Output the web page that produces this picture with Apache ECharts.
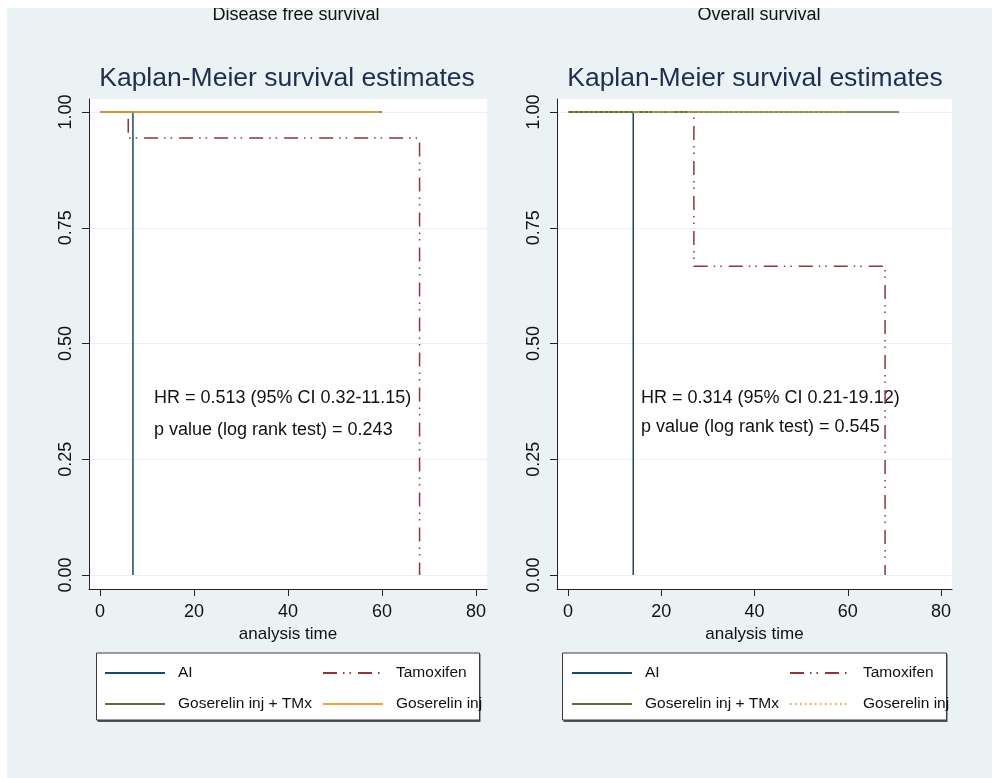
<!DOCTYPE html>
<html><head><meta charset="utf-8">
<script src="https://cdn.jsdelivr.net/npm/echarts@6/dist/echarts.min.js"></script>
<style>html,body{margin:0;padding:0;background:#fff}#c{width:992px;height:778px}</style>
</head><body><div id="c"></div>
<script>
// ---- data ----
const panelTitles = ['Disease free survival', 'Overall survival'];
const mainTitle = 'Kaplan-Meier survival estimates';
const seriesNames = ['AI', 'Tamoxifen', 'Goserelin inj + TMx', 'Goserelin inj'];
const xTicks = [0, 20, 40, 60, 80];
const yTicks = [0, 0.25, 0.5, 0.75, 1];
const xAxisName = 'analysis time';
// Disease free survival: step functions [time, survival]
const dfsAI = [[0, 1], [7, 0]];
const dfsTam = [[0, 1], [6, 0.944], [68, 0]];
const dfsGosTmx = [[0, 1], [60, 1]];
const dfsGos = [[0, 1], [59.5, 1]];
// Overall survival
const osAI = [[0, 1], [14, 0]];
const osTam = [[0, 1], [27, 0.667], [68, 0]];
const osGosTmx = [[0, 1], [71, 1]];
const osGos = [[0, 1], [60, 1]];
const dfsStats = ['HR = 0.513 (95% CI 0.32-11.15)', 'p value (log rank test) = 0.243'];
const osStats = ['HR = 0.314 (95% CI 0.21-19.12)', 'p value (log rank test) = 0.545'];

// ---- styling ----
const FONT = "'Liberation Sans', Arial, sans-serif";
const BG = '#EAF2F3';
const C_AI = '#1a476f', C_TAM = '#90353b', C_GRN = '#55752f', C_ORG = '#eea237';
const TAM_DASH = [14, 6, 1.5, 5, 1.5, 7];
const SUFFIX = ' (OS)';

const chart = echarts.init(document.getElementById('c'), null, {renderer: 'canvas'});

const grids = [
  {left: 89, top: 99, width: 398, height: 490},
  {left: 557, top: 99, width: 395, height: 490}
];

function xAxisCfg(gi) {
  return {
    type: 'value', gridIndex: gi, min: -2.35, max: 82.35,
    name: xAxisName, nameLocation: 'middle', nameGap: 35,
    nameTextStyle: {fontSize: 17, color: '#111', fontFamily: FONT},
    axisLine: {show: true, onZero: false, lineStyle: {color: '#222', width: 1}},
    axisTick: {show: true, length: 7, customValues: xTicks, lineStyle: {color: '#222', width: 1}},
    axisLabel: {customValues: xTicks, fontSize: 18, color: '#111', margin: 14, fontFamily: FONT},
    splitLine: {show: false}
  };
}
function yAxisCfg(gi) {
  return {
    type: 'value', gridIndex: gi, min: -0.0302, max: 1.0281,
    axisLine: {show: true, onZero: false, lineStyle: {color: '#222', width: 1}},
    axisTick: {show: true, length: 7, customValues: yTicks, lineStyle: {color: '#222', width: 1}},
    axisLabel: {customValues: yTicks, rotate: 90, formatter: v => v.toFixed(2),
      fontSize: 18, color: '#111', margin: 14, fontFamily: FONT},
    splitLine: {show: true, lineStyle: {color: BG, width: 1}}
  };
}
function mk(name, data, gi, color, type) {
  return {
    type: 'line', name: name, xAxisIndex: gi, yAxisIndex: gi, data: data,
    step: 'end', symbol: 'none', silent: true, animation: false,
    itemStyle: {color: color},
    lineStyle: {color: color, width: 1.5, type: type || 'solid'}
  };
}

const series = [
  mk(seriesNames[0], dfsAI, 0, C_AI),
  mk(seriesNames[1], dfsTam, 0, C_TAM, TAM_DASH),
  mk(seriesNames[2], dfsGosTmx, 0, C_GRN),
  mk(seriesNames[3], dfsGos, 0, C_ORG),
  mk(seriesNames[0] + SUFFIX, osAI, 1, C_AI),
  mk(seriesNames[1] + SUFFIX, osTam, 1, C_TAM, TAM_DASH),
  mk(seriesNames[2] + SUFFIX, osGosTmx, 1, C_GRN),
  mk(seriesNames[3] + SUFFIX, osGos, 1, C_ORG, [1.5, 3.5])
];

function legendCol(left, names) {
  return {
    left: left, top: 665, orient: 'vertical', padding: 0,
    itemWidth: 60, itemHeight: 16, itemGap: 15, selectedMode: false,
    data: names,
    itemStyle: {opacity: 0, borderWidth: 0},
    formatter: n => n.replace(SUFFIX, ''),
    textStyle: {fontSize: 15.5, color: '#111', fontFamily: FONT, padding: [0, 0, 0, 8]}
  };
}
const legends = [
  legendCol(104, [seriesNames[0], seriesNames[2]]),
  legendCol(322, [seriesNames[1], seriesNames[3]]),
  legendCol(571, [seriesNames[0] + SUFFIX, seriesNames[2] + SUFFIX]),
  legendCol(789, [seriesNames[1] + SUFFIX, seriesNames[3] + SUFFIX])
];

function txt(x, y, text, size, fill, align) {
  return {type: 'text', x: x, y: y, silent: true,
    style: {text: text, fontSize: size, fontFamily: FONT, fill: fill,
      align: align || 'center', verticalAlign: 'middle'}};
}
function legendBox(x, w) {
  return [
    {type: 'rect', shape: {x: x + 1, y: 654, width: w, height: 68}, style: {fill: '#555'}, z: 1, silent: true},
    {type: 'rect', shape: {x: x, y: 653, width: w, height: 67}, style: {fill: '#fff', stroke: '#3a3a3a', lineWidth: 1}, z: 2, silent: true}
  ];
}

const graphics = [].concat(
  legendBox(96.5, 383),
  legendBox(562.5, 384),
  [
    txt(296, 15, panelTitles[0], 18, '#111'),
    txt(759, 15, panelTitles[1], 18, '#111'),
    txt(287, 79, mainTitle, 26.5, '#1f2d4e'),
    txt(755, 79, mainTitle, 26.5, '#1f2d4e'),
    txt(154, 398, dfsStats[0], 18, '#111', 'left'),
    txt(154, 430, dfsStats[1], 18, '#111', 'left'),
    txt(641, 398, osStats[0], 18, '#111', 'left'),
    txt(641, 427, osStats[1], 18, '#111', 'left'),
    {type: 'rect', shape: {x: 0, y: 0, width: 992, height: 8}, style: {fill: '#fff'}, z: 100, silent: true},
    {type: 'rect', shape: {x: 0, y: 0, width: 7, height: 778}, style: {fill: '#fff'}, z: 100, silent: true}
  ]
);

chart.setOption({
  backgroundColor: BG,
  animation: false,
  grid: grids.map(g => Object.assign({show: true, backgroundColor: '#fff', borderWidth: 0}, g)),
  xAxis: [xAxisCfg(0), xAxisCfg(1)],
  yAxis: [yAxisCfg(0), yAxisCfg(1)],
  legend: legends,
  series: series,
  graphic: graphics
});
</script>
</body></html>
